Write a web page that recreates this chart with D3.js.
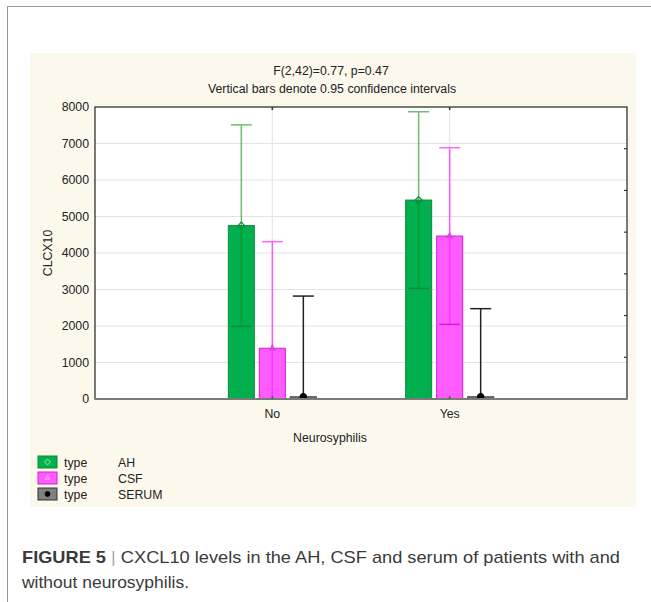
<!DOCTYPE html>
<html>
<head>
<meta charset="utf-8">
<script src="https://cdn.jsdelivr.net/npm/d3@7"></script>
<style>
  body { margin: 0; background: #fff; }
  svg { display: block; font-family: "Liberation Sans", Arial, sans-serif; }
</style>
</head>
<body>
<div id="chart"></div>
<script>
// values
const groups = ["No", "Yes"];
const types = ["AH", "CSF", "SERUM"];
const meansAH = [4750, 5450];
const ciAH = [2760, 2420];
const meansCSF = [1390, 4465];
const ciCSF = [2920, 2420];
const meansSERUM = [60, 60];
const ciSERUM = [2760, 2415];
const yTicks = [0, 1000, 2000, 3000, 4000, 5000, 6000, 7000, 8000];

const colors = {
  AH: { fill: "#00b04f", stroke: "#0a8a35", ci: "rgba(20,140,20,0.6)", cap: "#6dbf6d" },
  CSF: { fill: "#ff5cff", stroke: "#d81ad8", ci: "rgba(255,40,255,0.75)", cap: "#ff66ff" },
  SERUM: { fill: "#808080", stroke: "#333", ci: "#222", cap: "#222" }
};

const seriesData = [];
groups.forEach((g, i) => {
  seriesData.push({ group: g, type: "AH", mean: meansAH[i], ci: ciAH[i] });
  seriesData.push({ group: g, type: "CSF", mean: meansCSF[i], ci: ciCSF[i] });
  seriesData.push({ group: g, type: "SERUM", mean: meansSERUM[i], ci: ciSERUM[i] });
});

const W = 651, H = 602;
const fs = 12.3;
const svg = d3.select("#chart").append("svg").attr("width", W).attr("height", H);

// page frame lines
svg.append("line").attr("x1", 7).attr("x2", W).attr("y1", 6.5).attr("y2", 6.5).attr("stroke", "#9a9a9a");
svg.append("line").attr("x1", 7.5).attr("x2", 7.5).attr("y1", 6).attr("y2", H).attr("stroke", "#9a9a9a");

// beige panel
svg.append("rect").attr("x", 30).attr("y", 53).attr("width", 606).attr("height", 454).attr("fill", "#fdf8ec");

const plot = { left: 95, right: 627, top: 107, bottom: 399 };

const x = d3.scalePoint().domain(groups).range([plot.left, plot.right]).padding(1);
const off = d3.scalePoint().domain(types).range([-31, 31]);
const y = d3.scaleLinear().domain([0, 8000]).range([plot.bottom, plot.top]);
const barW = 26;

svg.append("rect").attr("x", plot.left).attr("y", plot.top)
  .attr("width", plot.right - plot.left).attr("height", plot.bottom - plot.top).attr("fill", "#fff");

svg.append("defs").append("clipPath").attr("id", "clip")
  .append("rect").attr("x", plot.left).attr("y", plot.top)
  .attr("width", plot.right - plot.left).attr("height", plot.bottom - plot.top);

// grid
svg.append("g").selectAll("line").data(yTicks.slice(1, -1)).join("line")
  .attr("x1", plot.left).attr("x2", plot.right)
  .attr("y1", d => y(d)).attr("y2", d => y(d))
  .attr("stroke", "#e3e3e3").attr("stroke-width", 1);
svg.append("g").selectAll("line").data(groups).join("line")
  .attr("x1", d => x(d)).attr("x2", d => x(d))
  .attr("y1", plot.top).attr("y2", plot.bottom)
  .attr("stroke", "#e6e6e6").attr("stroke-width", 1.2);

const g = svg.append("g").attr("clip-path", "url(#clip)");

// bars
g.selectAll("rect.bar").data(seriesData).join("rect")
  .attr("class", "bar")
  .attr("x", d => x(d.group) + off(d.type) - barW / 2)
  .attr("y", d => y(d.mean))
  .attr("width", barW)
  .attr("height", d => y(0) - y(d.mean))
  .attr("fill", d => colors[d.type].fill)
  .attr("stroke", d => colors[d.type].stroke)
  .attr("stroke-width", 1);

// confidence intervals
g.selectAll("line.ci").data(seriesData).join("line")
  .attr("class", "ci")
  .attr("x1", d => x(d.group) + off(d.type)).attr("x2", d => x(d.group) + off(d.type))
  .attr("y1", d => y(d.mean + d.ci)).attr("y2", d => y(d.mean - d.ci))
  .attr("stroke", d => colors[d.type].ci).attr("stroke-width", 1.5);

const caps = [];
seriesData.forEach(d => {
  caps.push({ d, v: d.mean + d.ci, top: true });
  caps.push({ d, v: d.mean - d.ci, top: false });
});
g.selectAll("line.cap").data(caps).join("line")
  .attr("class", "cap")
  .attr("x1", c => x(c.d.group) + off(c.d.type) - 10.5)
  .attr("x2", c => x(c.d.group) + off(c.d.type) + 10.5)
  .attr("y1", c => y(c.v)).attr("y2", c => y(c.v))
  .attr("stroke", c => c.top ? colors[c.d.type].cap : colors[c.d.type].stroke)
  .attr("stroke-width", 1.5);

// mean markers
g.selectAll("path.mark").data(seriesData).join("path")
  .attr("class", "mark")
  .attr("transform", d => `translate(${x(d.group) + off(d.type)},${y(d.mean)})`)
  .attr("d", d => d.type === "AH"
    ? d3.symbol(d3.symbolDiamond2, 30)()
    : d.type === "CSF" ? d3.symbol(d3.symbolTriangle2, 20)() : d3.symbol(d3.symbolCircle, 32)())
  .attr("fill", d => d.type === "SERUM" ? "#000" : "none")
  .attr("stroke", d => d.type === "AH" ? "#0a8a35" : d.type === "CSF" ? "#e040e0" : "#000")
  .attr("stroke-width", 1.2);

// frame
svg.append("rect").attr("x", plot.left).attr("y", plot.top)
  .attr("width", plot.right - plot.left).attr("height", plot.bottom - plot.top)
  .attr("fill", "none").attr("stroke", "#222").attr("stroke-width", 1.2);
svg.append("line").attr("x1", plot.left).attr("x2", plot.right)
  .attr("y1", plot.bottom).attr("y2", plot.bottom).attr("stroke", "#7a7a7a").attr("stroke-width", 2);

// category ticks on top and bottom
svg.append("g").selectAll("line").data(groups).join("line")
  .attr("x1", d => x(d)).attr("x2", d => x(d))
  .attr("y1", plot.top).attr("y2", plot.top + 3).attr("stroke", "#333").attr("stroke-width", 1.5);
svg.append("g").selectAll("line").data(groups).join("line")
  .attr("x1", d => x(d)).attr("x2", d => x(d))
  .attr("y1", plot.bottom).attr("y2", plot.bottom - 3).attr("stroke", "#555").attr("stroke-width", 1.5);

// right axis minor ticks (7 divisions)
const yr = d3.scaleLinear().domain([0, 7]).range([plot.bottom, plot.top]);
svg.append("g").selectAll("line").data(d3.range(1, 7)).join("line")
  .attr("x1", plot.right - 3).attr("x2", plot.right)
  .attr("y1", d => yr(d)).attr("y2", d => yr(d)).attr("stroke", "#333").attr("stroke-width", 1.2);

// y labels
svg.append("g").selectAll("text").data(yTicks).join("text")
  .attr("x", 89).attr("y", d => y(d) + 4.3)
  .attr("text-anchor", "end").attr("font-size", fs).attr("fill", "#222")
  .text(d => d);

// x labels
svg.append("g").selectAll("text").data(groups).join("text")
  .attr("x", d => x(d)).attr("y", 418)
  .attr("text-anchor", "middle").attr("font-size", fs).attr("fill", "#222")
  .text(d => d);

svg.append("text").attr("x", 330).attr("y", 442).attr("text-anchor", "middle")
  .attr("font-size", fs).attr("fill", "#222").text("Neurosyphilis");

svg.append("text").attr("transform", `translate(52,${(plot.top + plot.bottom) / 2}) rotate(-90)`)
  .attr("text-anchor", "middle").attr("font-size", fs).attr("fill", "#222").text("CLCX10");

// titles
svg.append("text").attr("x", 331).attr("y", 75).attr("text-anchor", "middle")
  .attr("font-size", fs).attr("fill", "#222").text("F(2,42)=0.77, p=0.47");
svg.append("text").attr("x", 332).attr("y", 93).attr("text-anchor", "middle")
  .attr("font-size", fs).attr("fill", "#222").text("Vertical bars denote 0.95 confidence intervals");

// legend
const leg = svg.append("g").selectAll("g").data(types).join("g")
  .attr("transform", (d, i) => `translate(38,${456 + i * 16})`);
leg.append("rect").attr("width", 19).attr("height", 12)
  .attr("fill", d => colors[d].fill).attr("stroke", d => colors[d].stroke);
leg.append("path").attr("transform", "translate(9.5,6)")
  .attr("d", d => d === "AH" ? d3.symbol(d3.symbolDiamond2, 22)()
    : d === "CSF" ? d3.symbol(d3.symbolTriangle2, 14)() : d3.symbol(d3.symbolCircle, 18)())
  .attr("fill", d => d === "SERUM" ? "#000" : "none")
  .attr("stroke", d => d === "AH" ? "#a8f0a8" : d === "CSF" ? "#ff9cff" : "#000");
leg.append("text").attr("x", 26).attr("y", 10.5).attr("font-size", fs).attr("fill", "#222").text("type");
leg.append("text").attr("x", 80).attr("y", 10.5).attr("font-size", fs).attr("fill", "#222").text(d => d);

// caption
const cap = svg.append("text").attr("x", 22).attr("y", 563).attr("font-size", 17).attr("fill", "#3a3a3a")
  .attr("textLength", 598).attr("lengthAdjust", "spacingAndGlyphs");
cap.append("tspan").attr("font-weight", "bold").text("FIGURE 5");
cap.append("tspan").attr("fill", "#aaa").text(" | ");
cap.append("tspan").text("CXCL10 levels in the AH, CSF and serum of patients with and");
svg.append("text").attr("x", 22).attr("y", 588).attr("font-size", 17).attr("fill", "#3a3a3a")
  .attr("textLength", 167).attr("lengthAdjust", "spacingAndGlyphs")
  .text("without neurosyphilis.");
</script>
</body>
</html>
